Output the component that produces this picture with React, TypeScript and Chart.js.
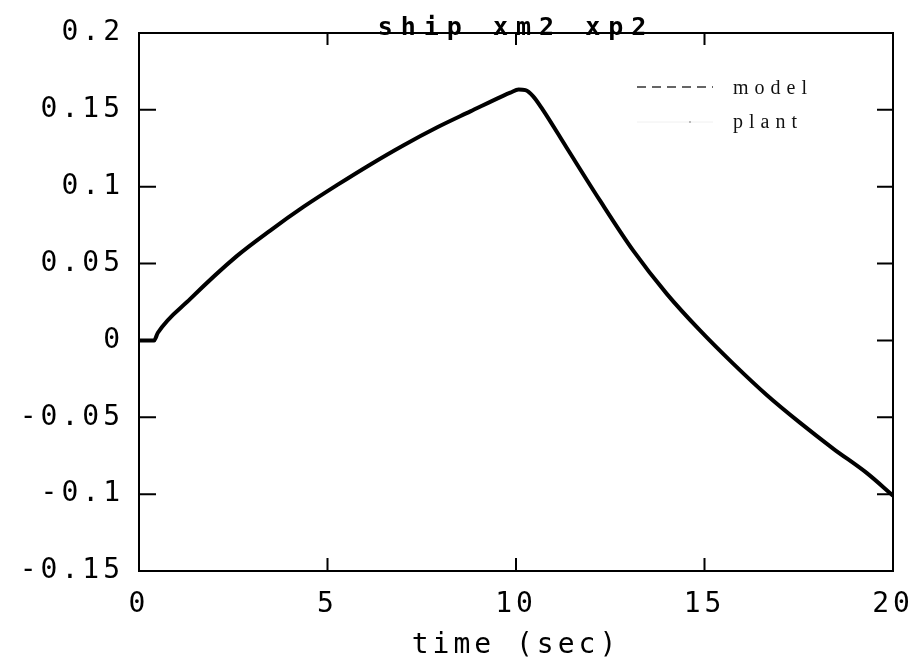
import { useEffect, useRef } from 'react';
import { Chart, registerables } from 'chart.js';

Chart.register(...registerables);

// ---- data ----
const timeSec = [0, 0.4, 0.5, 1.36, 2.6, 3.48, 4.37, 5.25, 6.14, 7.02, 7.9, 8.79, 9.67, 9.85, 10.07, 10.25, 10.45, 10.7, 11.34, 12.23, 13.11, 14.0, 14.88, 15.76, 16.65, 17.53, 18.42, 19.3, 20];
const modelValues = [0, 0, 0.005, 0.027, 0.055, 0.0715, 0.087, 0.101, 0.1145, 0.127, 0.1385, 0.149, 0.1593, 0.1612, 0.1632, 0.1628, 0.159, 0.1505, 0.1255, 0.0909, 0.0584, 0.0303, 0.0065, -0.0151, -0.0355, -0.0535, -0.0705, -0.0862, -0.101];
const plantValues = [0, 0, 0.005, 0.027, 0.055, 0.0715, 0.087, 0.101, 0.1145, 0.127, 0.1385, 0.149, 0.1593, 0.1612, 0.1632, 0.1628, 0.159, 0.1505, 0.1255, 0.0909, 0.0584, 0.0303, 0.0065, -0.0151, -0.0355, -0.0535, -0.0705, -0.0862, -0.101];

const xTickValues = [0, 5, 10, 15, 20];
const xTickLabels = ['0', '5', '10', '15', '20'];
const yTickValues = [-0.15, -0.1, -0.05, 0, 0.05, 0.1, 0.15, 0.2];
const yTickLabels = ['-0.15', '-0.1', '-0.05', '0', '0.05', '0.1', '0.15', '0.2'];

const chartTitle = 'ship xm2 xp2';
const xAxisTitle = 'time (sec)';
const seriesNames = ['model', 'plant'];

const MONO = '"DejaVu Sans Mono", "Liberation Mono", monospace';

const framePlugin = {
  id: 'frameAndLegend',
  beforeDraw(chart: any) {
    const ctx = chart.ctx;
    ctx.letterSpacing = '4px';
    const tb = chart.titleBlock;
    if (tb && !tb.__wrapped) {
      const orig = tb.draw.bind(tb);
      tb.draw = (...args: any[]) => {
        const prev = ctx.letterSpacing;
        ctx.letterSpacing = '8px';
        orig(...args);
        ctx.letterSpacing = prev;
      };
      tb.__wrapped = true;
    }
  },
  afterDraw(chart: any) {
    const ctx = chart.ctx;
    const ca = chart.chartArea;
    const xs = chart.scales.x;
    const ys = chart.scales.y;
    ctx.save();
    ctx.letterSpacing = '0px';
    ctx.strokeStyle = '#000';
    ctx.lineWidth = 2;
    ctx.setLineDash([]);
    ctx.strokeRect(ca.left, ca.top, ca.right - ca.left, ca.bottom - ca.top);
    ctx.beginPath();
    xTickValues.forEach((v) => {
      const px = xs.getPixelForValue(v);
      ctx.moveTo(px, ca.bottom);
      ctx.lineTo(px, ca.bottom - 13);
      ctx.moveTo(px, ca.top);
      ctx.lineTo(px, ca.top + 12);
    });
    yTickValues.forEach((v) => {
      const py = ys.getPixelForValue(v);
      ctx.moveTo(ca.left, py);
      ctx.lineTo(ca.left + 17, py);
      ctx.moveTo(ca.right, py);
      ctx.lineTo(ca.right - 16, py);
    });
    ctx.stroke();

    // legend
    ctx.letterSpacing = '6px';
    ctx.font = '20px "Liberation Serif", serif';
    ctx.fillStyle = '#111';
    ctx.textBaseline = 'alphabetic';
    ctx.textAlign = 'left';
    const lx0 = ca.right - 256;
    const lx1 = ca.right - 180;
    const tx = ca.right - 160;
    ctx.strokeStyle = '#333';
    ctx.lineWidth = 1.5;
    ctx.setLineDash([9, 6]);
    ctx.beginPath();
    ctx.moveTo(lx0, ca.top + 54);
    ctx.lineTo(lx1, ca.top + 54);
    ctx.stroke();
    ctx.fillText(seriesNames[0], tx, ca.top + 61);
    ctx.setLineDash([]);
    ctx.strokeStyle = '#f0f0f0';
    ctx.lineWidth = 1;
    ctx.beginPath();
    ctx.moveTo(lx0, ca.top + 89);
    ctx.lineTo(lx1, ca.top + 89);
    ctx.stroke();
    ctx.fillStyle = '#bbb';
    ctx.fillRect(lx0 + 52, ca.top + 88, 2, 2);
    ctx.fillStyle = '#111';
    ctx.fillText(seriesNames[1], tx, ca.top + 95);
    ctx.restore();
    ctx.letterSpacing = '0px';
  },
};

export default function App() {
  const canvasRef = useRef<HTMLCanvasElement | null>(null);

  useEffect(() => {
    if (!canvasRef.current) return;
    const chart = new Chart(canvasRef.current, {
      type: 'line',
      data: {
        datasets: [
          {
            label: seriesNames[1],
            data: timeSec.map((t, i) => ({ x: t, y: plantValues[i] })),
            borderColor: '#000',
            borderWidth: 4,
            pointRadius: 0,
            cubicInterpolationMode: 'monotone',
            fill: false,
          },
          {
            label: seriesNames[0],
            data: timeSec.map((t, i) => ({ x: t, y: modelValues[i] })),
            borderColor: '#000',
            borderWidth: 2,
            borderDash: [8, 5],
            pointRadius: 0,
            cubicInterpolationMode: 'monotone',
            fill: false,
          },
        ],
      },
      options: {
        animation: false,
        responsive: true,
        maintainAspectRatio: false,
        layout: { padding: { left: 0, right: 23, top: 0, bottom: 0 } },
        plugins: {
          legend: { display: false },
          tooltip: { enabled: false },
          title: {
            display: true,
            text: chartTitle,
            fullSize: false,
            color: '#000',
            font: { family: MONO, size: 25, weight: 'bold', lineHeight: 1.2 },
            padding: { top: 13, bottom: -10 },
          },
        },
        scales: {
          x: {
            type: 'linear',
            min: 0,
            max: 20,
            grid: { display: false, drawTicks: false },
            border: { display: false },
            afterBuildTicks: (s: any) => {
              s.ticks = xTickValues.map((v) => ({ value: v }));
            },
            afterFit: (s: any) => {
              s.height = 95;
              s.paddingLeft = 0;
              s.paddingRight = 0;
            },
            ticks: {
              color: '#000',
              padding: 17,
              maxRotation: 0,
              autoSkip: false,
              font: { family: MONO, size: 28, lineHeight: 1.2 },
              callback: (_v: any, i: number) => xTickLabels[i],
            },
            title: {
              display: true,
              text: xAxisTitle,
              color: '#000',
              font: { family: MONO, size: 28, lineHeight: 1.2 },
              padding: { top: 0, bottom: 3 },
            },
          },
          y: {
            type: 'linear',
            min: -0.15,
            max: 0.2,
            grid: { display: false, drawTicks: false },
            border: { display: false },
            afterBuildTicks: (s: any) => {
              s.ticks = yTickValues.map((v) => ({ value: v }));
            },
            afterFit: (s: any) => {
              s.width = 139;
              s.paddingTop = 0;
              s.paddingBottom = 0;
            },
            ticks: {
              color: '#000',
              padding: 15,
              autoSkip: false,
              font: { family: MONO, size: 28, lineHeight: 1.2 },
              callback: (_v: any, i: number) => yTickLabels[i],
            },
          },
        },
      } as any,
      plugins: [framePlugin],
    });
    chart.draw();
    return () => chart.destroy();
  }, []);

  return (
    <div style={{ position: 'absolute', left: 0, top: 0, width: 916, height: 666, background: '#fff' }}>
      <canvas ref={canvasRef} />
    </div>
  );
}
